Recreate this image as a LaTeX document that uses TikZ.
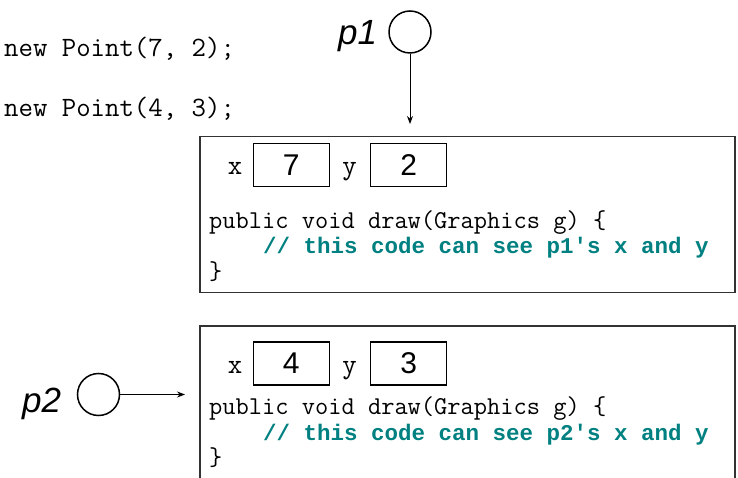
\documentclass[tikz,border=0pt]{standalone}
\usepackage{fontspec}
\newfontfamily\numfont{Liberation Sans}
\newfontfamily\boldmono{Liberation Mono}
\usetikzlibrary{arrows.meta}
\definecolor{codeteal}{RGB}{0,128,128}
\definecolor{framegray}{RGB}{50,50,50}
\begin{document}
\begin{tikzpicture}[x=1pt,y=-1pt,
  frame/.style={draw=framegray,line width=1.4pt},
  valbox/.style={draw=black,line width=1.4pt,minimum width=76pt,minimum height=43pt,inner sep=0pt,font=\numfont\fontsize{30}{30}\selectfont},
  refcirc/.style={circle,draw=black,line width=1.5pt,minimum size=42pt,inner sep=0pt},
  reflabel/.style={anchor=base west,inner sep=0pt,font=\numfont\itshape\fontsize{35}{35}\selectfont},
  bigcode/.style={anchor=base west,inner sep=0pt,font=\ttfamily\fontsize{28}{28}\selectfont},
  fieldlabel/.style={anchor=base,inner sep=0pt,font=\ttfamily\fontsize{28}{28}\selectfont},
  code/.style={anchor=base west,inner sep=0pt,font=\ttfamily\fontsize{25.7}{25.7}\selectfont},
  comment/.style={anchor=base west,inner sep=0pt,text=codeteal,font=\boldmono\bfseries\fontsize{22.5}{22.5}\selectfont},
  ptr/.style={-{Stealth[length=8pt,width=6pt]},line width=0.9pt}]
\useasboundingbox (0,0) rectangle (738,478);

% constructor lines
\node[bigcode] (new1) at (4,57) {new Point(7, 2);};
\node[bigcode] (new2) at (4,117) {new Point(4, 3);};

% object 1
\node[frame,minimum width=535pt,minimum height=156pt,inner sep=0pt] (obj1) at (467.5,214.5) {};
\node[fieldlabel] (x1l) at (235,175) {x};
\node[valbox] (x1) at (291.3,165) {7};
\node[fieldlabel] (y1l) at (349.5,175) {y};
\node[valbox] (y1) at (408.7,165) {2};
\node[code] (c1a) at (209,228.5) {public void draw(Graphics g) \{};
\node[comment] (c1b) at (263,254) {// this code can see p1's x and y};
\node[code] (c1c) at (209,279.5) {\}};

% object 2 (cut off at bottom)
\draw[draw=framegray,line width=1.4pt] (200,480) |- (735,326) -- (735,480);
\node[fieldlabel] (x2l) at (235,373.3) {x};
\node[valbox] (x2) at (291.3,363.3) {4};
\node[fieldlabel] (y2l) at (349.5,373.3) {y};
\node[valbox] (y2) at (408.7,363.3) {3};
\node[code] (c2a) at (209,414.5) {public void draw(Graphics g) \{};
\node[comment] (c2b) at (263,440) {// this code can see p2's x and y};
\node[code] (c2c) at (209,465.5) {\}};

% references
\node[refcirc] (p1c) at (410,32) {};
\node[reflabel] (p1l) at (338,45) {p1};
\coordinate (p1end) at (410,124);
\draw[ptr] (p1c.south) -- (p1end);

\node[refcirc] (p2c) at (98.5,394.5) {};
\node[reflabel] (p2l) at (22,412) {p2};
\coordinate (p2end) at (185,394.5);
\draw[ptr] (p2c.east) -- (p2end);
\end{tikzpicture}
\end{document}
